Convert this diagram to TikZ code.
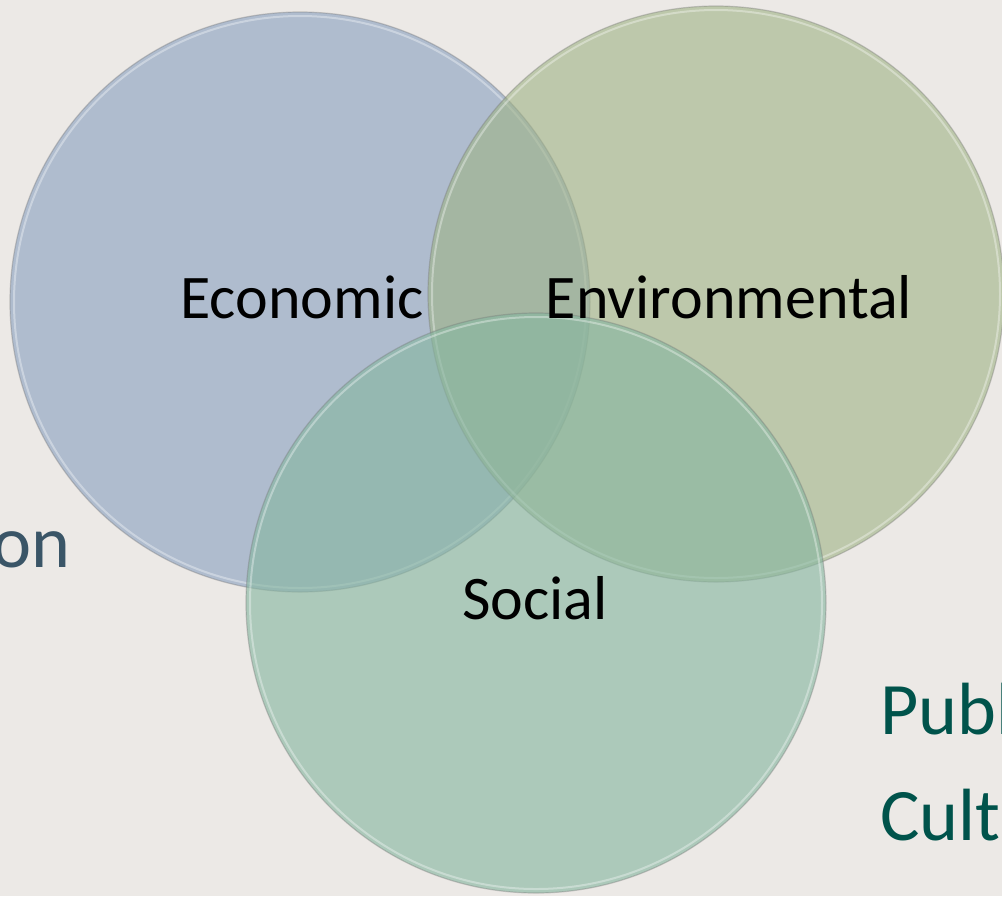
\documentclass[tikz,border=0pt]{standalone}
\usepackage{fontspec}
\setmainfont{Carlito}
\usetikzlibrary{positioning}
\definecolor{bgcol}{RGB}{236,233,230}
\definecolor{econcol}{RGB}{175,188,206}
\definecolor{envcol}{RGB}{158,178,133}
\definecolor{soccol}{RGB}{134,182,160}
\definecolor{slatecol}{RGB}{58,85,103}
\definecolor{tealcol}{RGB}{0,83,75}
\tikzstyle{ring} = [circle, inner sep=0pt, line width=0.6pt, draw=black!55,
draw opacity=0.35]
\tikzstyle{econ} = [ring, fill=econcol, minimum size=290pt]
\tikzstyle{env} = [ring, fill=envcol, fill opacity=0.6, minimum size=288pt]
\tikzstyle{soc} = [ring, fill=soccol, fill opacity=0.62, minimum size=290pt]
\tikzstyle{shine} = [circle, inner sep=0pt, draw=white, draw opacity=0.35,
line width=1pt]
\tikzstyle{lbl} = [inner sep=0pt, anchor=base, text=black,
font=\fontsize{31}{36}\selectfont]
\tikzstyle{side} = [inner sep=0pt, font=\fontsize{37}{53}\selectfont]
\begin{document}
\begin{tikzpicture}[x=0.5pt, y=-0.5pt]
  \useasboundingbox (0,0) rectangle (1002,896);
  \fill[bgcol] (0,0) rectangle (1002,896);
  \clip (0,0) rectangle (1002,896);

  % the three circles
  \node[econ] (econ) at (300,302) {}; %
  \node[shine, minimum size=286pt] (econshine) at (econ.center) {}; %
  \node[env] (env) at (716,294) {}; %
  \node[shine, minimum size=284pt] (envshine) at (env.center) {}; %
  \node[soc] (soc) at (536,603) {}; %
  \node[shine, minimum size=286pt] (socshine) at (soc.center) {}; %

  % labels
  \node[lbl] (econlbl) at (302,318) {Economic}; %
  \node[lbl] (envlbl) at (729,318) {Environmental}; %
  \node[lbl] (soclbl) at (535,619) {Social}; %

  % text running off the edges
  \node[side, anchor=base east, text=slatecol] (leftside) at (71,567) {on}; %
  \node[side, anchor=base west, text=tealcol, align=left] (rightside)
    at (880,840) {Publ\\Cult}; %
\end{tikzpicture}
\end{document}
